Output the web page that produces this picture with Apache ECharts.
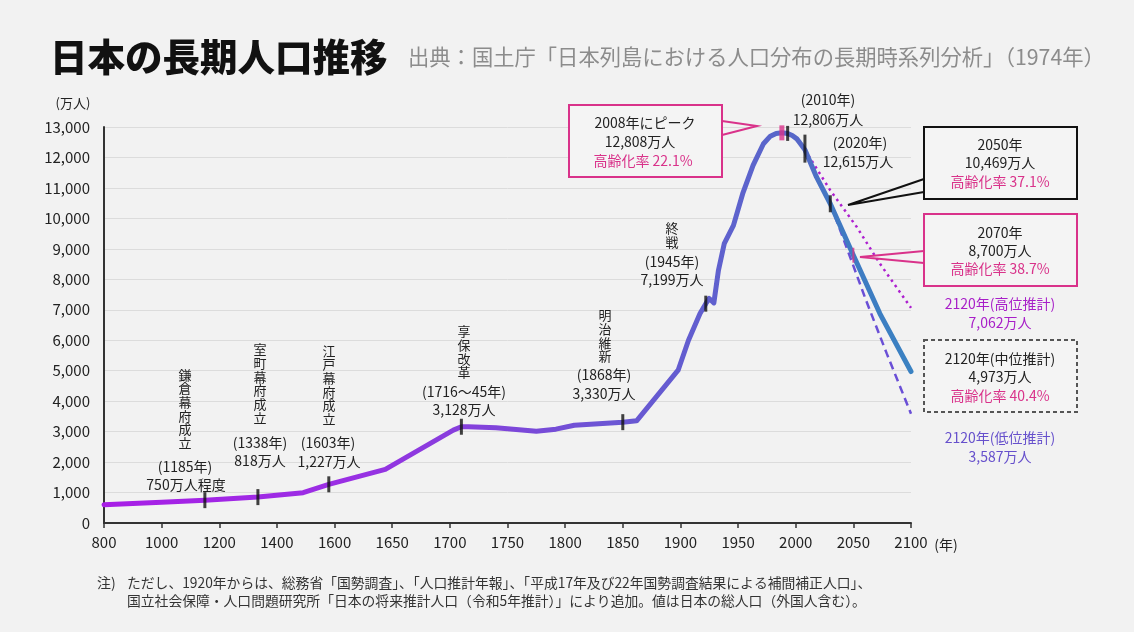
<!DOCTYPE html>
<html>
<head>
<meta charset="utf-8">
<title>日本の長期人口推移</title>
<script src="https://cdn.jsdelivr.net/npm/echarts@6/dist/echarts.min.js"></script>
<style>
  body { margin: 0; background: #f2f2f2; }
</style>
</head>
<body>
<div id="main" style="width:1134px;height:632px;"></div>
<script type="text/javascript">
// 横軸の目盛（800〜1600年は200年刻み、それ以降は50年刻み）
var xTickLabels = ['800', '1000', '1200', '1400', '1600', '1650', '1700', '1750',
                   '1800', '1850', '1900', '1950', '2000', '2050', '2100'];

// 実績＋中位推計（万人）
var mainYears  = [800, 1000, 1150, 1334, 1491, 1580, 1644, 1703, 1710, 1716, 1740, 1775, 1792, 1808,
                  1850, 1862, 1898, 1907, 1917, 1922, 1925, 1929, 1933, 1938, 1946, 1954, 1963, 1972,
                  1978, 1983, 1988, 1993, 1997, 2001, 2004, 2008, 2018, 2030, 2050, 2073, 2100];
var mainValues = [600, 680, 750, 850, 995, 1270, 1760, 3050, 3160, 3160, 3125, 3015, 3080, 3210,
                  3310, 3355, 5016, 6000, 6875, 7200, 7370, 7225, 8300, 9170, 9770, 10810, 11740, 12450,
                  12700, 12790, 12808, 12790, 12720, 12610, 12460, 12250, 11360, 10480, 8790, 6875, 4973];

// 高位推計
var highYears  = [2008, 2030, 2053, 2073, 2100];
var highValues = [12250, 10920, 9715, 8515, 7062];

// 低位推計
var lowYears  = [2030, 2044, 2061, 2079, 2100];
var lowValues = [10480, 9060, 7310, 5560, 3587];

// 出来事の目印
var tickYears  = [1150, 1334, 1580, 1710, 1850, 1922, 1988, 1993, 2008, 2030, 2050];
var tickValues = [750, 850, 1270, 3160, 3310, 7200, 12808, 12790, 12290, 10480, 8790];
var tickStyles = [
  { size: [3, 16], color: '#111' }, { size: [3, 16], color: '#111' }, { size: [3, 16], color: '#111' },
  { size: [3, 16], color: '#111' }, { size: [3, 16], color: '#111' }, { size: [3, 16], color: '#111' },
  { size: [5, 15], color: '#d9328a' }, { size: [3, 15], color: '#111' }, { size: [3, 28], color: '#111' },
  { size: [3, 17], color: '#111' }, { size: [2, 15], color: '#d9328a' }
];

var FONT = "'Noto Sans CJK JP', 'Noto Sans', sans-serif";
var PINK = '#d9328a';

function toAxis(year) {
  return year <= 1600 ? (year - 800) / 200 : 4 + (year - 1600) / 50;
}
function pairs(years, values) {
  return years.map(function (y, i) { return [toAxis(y), values[i]]; });
}
function txt(x, y, text, size, color, extra) {
  var st = { text: text, x: 0, y: 0, fill: color || '#222', fontSize: size || 14,
             fontFamily: FONT, align: 'center', verticalAlign: 'middle' };
  for (var k in (extra || {})) st[k] = extra[k];
  return { type: 'text', x: x, y: y, style: st, z: 10 };
}
function vtxt(x, y, text) {
  return txt(x, y, text.split('').join('\n'), 13, '#222', { lineHeight: 13.7 });
}
function box(x, y, w, h, color, dash) {
  return { type: 'rect', shape: { x: x, y: y, width: w, height: h }, z: 9,
           style: { fill: '#f4f4f4', stroke: color, lineWidth: 2, lineDash: dash || null } };
}
function pointer(points, color) {
  return { type: 'polyline', shape: { points: points }, z: 9,
           style: { stroke: color, lineWidth: 2, fill: null } };
}

var myChart = echarts.init(document.getElementById('main'));

var option = {
  backgroundColor: '#f2f2f2',
  animation: false,
  grid: { left: 104, top: 127, right: 223, bottom: 109, containLabel: false },
  xAxis: {
    type: 'value', min: 0, max: 14, interval: 1,
    axisLine: { show: true, onZero: false, lineStyle: { color: '#333', width: 2 } },
    axisTick: { show: true, length: 5, lineStyle: { color: '#333', width: 1.5 } },
    splitLine: { show: false },
    axisLabel: {
      margin: 12, fontSize: 15, color: '#222', fontFamily: FONT,
      formatter: function (v) { return xTickLabels[Math.round(v)] || ''; }
    }
  },
  yAxis: {
    type: 'value', min: 0, max: 13000, interval: 1000,
    axisLine: { show: true, lineStyle: { color: '#333', width: 2 } },
    axisTick: { show: false },
    splitLine: { lineStyle: { color: '#dcdcdc', width: 1 } },
    axisLabel: {
      margin: 14, fontSize: 15, color: '#222', fontFamily: FONT,
      formatter: function (v) { return v.toLocaleString('en-US'); }
    }
  },
  series: [
    {
      name: '高位推計', type: 'line', showSymbol: false, z: 3,
      data: pairs(highYears, highValues),
      lineStyle: { color: '#ad1fcf', width: 2.5, type: [2.5, 4] }
    },
    {
      name: '低位推計', type: 'line', showSymbol: false, z: 3,
      data: pairs(lowYears, lowValues),
      lineStyle: { color: '#6a4fd6', width: 2.5, type: [8, 5] }
    },
    {
      name: '総人口', type: 'line', showSymbol: false, z: 4,
      data: pairs(mainYears, mainValues),
      lineStyle: {
        width: 5, cap: 'round', join: 'round',
        color: new echarts.graphic.LinearGradient(0, 0, 1, 0, [
          { offset: 0, color: '#a81ee6' },
          { offset: 0.3, color: '#9a2fe4' },
          { offset: 0.45, color: '#8540dc' },
          { offset: 0.62, color: '#6c55d4' },
          { offset: 0.8, color: '#5c64cc' },
          { offset: 0.86, color: '#5668c8' },
          { offset: 0.9, color: '#4079c2' },
          { offset: 1, color: '#3a82c2' }
        ])
      }
    },
    {
      name: '目印', type: 'scatter', symbol: 'rect', z: 5,
      data: tickYears.map(function (y, i) {
        return {
          value: [toAxis(y), tickValues[i]],
          symbolSize: tickStyles[i].size,
          itemStyle: { color: tickStyles[i].color }
        };
      })
    }
  ],
  graphic: [
    txt(50, 57, '日本の長期人口推移', 37.5, '#111', { align: 'left', fontWeight: 900 }),
    txt(408, 57, '出典：国土庁「日本列島における人口分布の長期時系列分析」（1974年）', 21.3, '#8c8c8c', { align: 'left' }),
    txt(73, 103, '(万人)', 13),
    txt(946, 545, '(年)', 14),

    vtxt(185, 409, '鎌倉幕府成立'),
    txt(185, 467, '(1185年)'), txt(186, 485, '750万人程度'),
    vtxt(260, 383.5, '室町幕府成立'),
    txt(260, 443, '(1338年)'), txt(260, 461, '818万人'),
    vtxt(329, 385, '江戸幕府成立'),
    txt(328, 443, '(1603年)'), txt(329, 462, '1,227万人'),
    vtxt(464, 352, '享保改革'),
    txt(464, 392, '(1716～45年)'), txt(464, 410, '3,128万人'),
    vtxt(605, 336, '明治維新'),
    txt(604, 375, '(1868年)'), txt(604, 394, '3,330万人'),
    vtxt(672, 235, '終戦'),
    txt(672, 262, '(1945年)'), txt(672, 280, '7,199万人'),
    txt(828, 100, '(2010年)'), txt(828, 120, '12,806万人'),
    txt(860, 143, '(2020年)'), txt(858, 162, '12,615万人'),

    box(569, 105, 153, 72, PINK),
    pointer([[722, 121], [757, 126], [722, 135]], PINK),
    txt(645, 123, '2008年にピーク'), txt(640, 142, '12,808万人'),
    txt(643, 161, '高齢化率 22.1%', 14, PINK),

    box(924, 127, 153, 72, '#111'),
    pointer([[924, 179], [848, 205], [924, 192]], '#111'),
    txt(1000, 145, '2050年'), txt(1000, 163, '10,469万人'),
    txt(1000, 182, '高齢化率 37.1%', 14, PINK),

    box(924, 214, 153, 72, PINK),
    pointer([[924, 251], [860, 257], [924, 263]], PINK),
    txt(1000, 233, '2070年'), txt(1000, 251, '8,700万人'),
    txt(1000, 269, '高齢化率 38.7%', 14, PINK),

    txt(1000, 304, '2120年(高位推計)', 14, '#a81fc8'),
    txt(1000, 323, '7,062万人', 14, '#a81fc8'),

    box(924, 340, 153, 72, '#555', [4, 3]),
    txt(1000, 359, '2120年(中位推計)'), txt(1000, 377, '4,973万人'),
    txt(1000, 396, '高齢化率 40.4%', 14, PINK),

    txt(1000, 438, '2120年(低位推計)', 14, '#6650cc'),
    txt(1000, 457, '3,587万人', 14, '#6650cc'),

    txt(97, 583, '注)', 14, '#333', { align: 'left' }),
    txt(127, 583, 'ただし、1920年からは、総務省「国勢調査」、「人口推計年報」、「平成17年及び22年国勢調査結果による補間補正人口」、', 13.8, '#333', { align: 'left' }),
    txt(127, 601, '国立社会保障・人口問題研究所「日本の将来推計人口（令和5年推計）」により追加。値は日本の総人口（外国人含む）。', 13.8, '#333', { align: 'left' })
  ]
};

myChart.setOption(option);
</script>
</body>
</html>
